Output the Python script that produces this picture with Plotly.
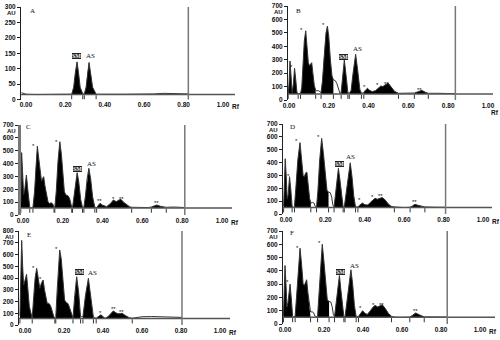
import plotly.graph_objects as go

# ---------------- data (Rf, AU) ----------------
PANELS = ["A", "B", "C", "D", "E", "F"]

A_POINTS = [(-0.022, 22), (0.0, 17), (0.05, 16), (0.10, 17), (0.15, 16), (0.20, 17),
            (0.232, 17), (0.242, 40), (0.250, 85), (0.259, 122), (0.267, 85), (0.275, 40), (0.288, 18),
            (0.296, 18), (0.305, 40), (0.312, 85), (0.320, 120), (0.328, 85), (0.338, 40), (0.356, 17),
            (0.40, 18), (0.45, 17), (0.50, 17), (0.55, 17), (0.60, 19), (0.65, 18), (0.70, 20),
            (0.75, 19), (0.80, 18), (0.824, 18)]

B_POINTS = [(-0.004, 45), (0.000, 120), (0.005, 290), (0.010, 150), (0.016, 55), (0.022, 120),
            (0.028, 236), (0.034, 150), (0.040, 55), (0.046, 48), (0.058, 50), (0.064, 90),
            (0.070, 250), (0.077, 440), (0.084, 515), (0.090, 420), (0.097, 280), (0.103, 255),
            (0.110, 275), (0.114, 278), (0.120, 200), (0.127, 110), (0.134, 72), (0.140, 68),
            (0.148, 70), (0.155, 60), (0.161, 55), (0.168, 140), (0.176, 330), (0.186, 500),
            (0.193, 550), (0.200, 470), (0.208, 300), (0.216, 180), (0.223, 150), (0.232, 145),
            (0.240, 125), (0.248, 85), (0.256, 50), (0.262, 55), (0.268, 160), (0.278, 298),
            (0.287, 180), (0.296, 55), (0.303, 50), (0.312, 70), (0.322, 200), (0.335, 340),
            (0.346, 210), (0.356, 80), (0.364, 50), (0.376, 55), (0.385, 75), (0.394, 87),
            (0.405, 72), (0.418, 62), (0.435, 70), (0.450, 90), (0.462, 105), (0.472, 100),
            (0.482, 112), (0.499, 125), (0.515, 95), (0.530, 65), (0.550, 50), (0.580, 52),
            (0.600, 50), (0.630, 52), (0.650, 62), (0.667, 72), (0.685, 58), (0.700, 50),
            (0.750, 50), (0.800, 48), (0.836, 47)]

C_POINTS = [(-0.011, 100), (-0.007, 485), (-0.002, 330), (0.003, 160), (0.009, 200), (0.017, 311),
            (0.024, 200), (0.030, 90), (0.034, 60), (0.042, 55), (0.050, 60), (0.058, 180),
            (0.065, 380), (0.072, 535), (0.080, 430), (0.088, 290), (0.093, 262), (0.099, 285),
            (0.104, 298), (0.110, 230), (0.118, 150), (0.126, 100), (0.133, 90), (0.142, 95),
            (0.150, 85), (0.156, 60), (0.160, 62), (0.167, 180), (0.176, 420), (0.185, 570),
            (0.193, 470), (0.200, 300), (0.208, 180), (0.216, 155), (0.226, 150), (0.234, 130),
            (0.240, 90), (0.245, 60), (0.249, 58), (0.256, 150), (0.264, 270), (0.272, 329),
            (0.280, 260), (0.290, 120), (0.299, 58), (0.306, 60), (0.314, 150), (0.322, 280),
            (0.331, 363), (0.340, 280), (0.350, 140), (0.361, 60), (0.370, 58), (0.378, 75),
            (0.387, 91), (0.398, 78), (0.420, 65), (0.440, 90), (0.454, 117), (0.463, 108),
            (0.470, 105), (0.480, 115), (0.492, 122), (0.505, 100), (0.520, 80), (0.535, 65),
            (0.546, 60), (0.570, 58), (0.600, 56), (0.630, 58), (0.645, 62), (0.660, 72),
            (0.672, 78), (0.690, 68), (0.710, 62), (0.720, 60), (0.760, 62), (0.800, 60), (0.813, 58)]

D_POINTS = [(-0.012, 60), (-0.008, 250), (-0.004, 430), (0.001, 300), (0.006, 120), (0.011, 150),
            (0.018, 290), (0.025, 180), (0.031, 60), (0.037, 52), (0.043, 60), (0.050, 200),
            (0.060, 420), (0.071, 555), (0.079, 450), (0.087, 300), (0.093, 290), (0.100, 320),
            (0.106, 325), (0.113, 220), (0.120, 120), (0.126, 85), (0.134, 90), (0.142, 85),
            (0.148, 60), (0.155, 55), (0.162, 180), (0.171, 420), (0.181, 588), (0.190, 470),
            (0.199, 300), (0.208, 185), (0.216, 170), (0.225, 165), (0.232, 130), (0.238, 70),
            (0.244, 55), (0.250, 150), (0.258, 280), (0.266, 355), (0.275, 250), (0.283, 120),
            (0.290, 55), (0.296, 55), (0.305, 160), (0.315, 300), (0.326, 398), (0.335, 290),
            (0.344, 140), (0.353, 55), (0.365, 55), (0.375, 70), (0.388, 85), (0.400, 72),
            (0.415, 70), (0.428, 90), (0.440, 110), (0.452, 122), (0.463, 115), (0.478, 125),
            (0.488, 128), (0.503, 110), (0.518, 80), (0.533, 60), (0.550, 55), (0.600, 50),
            (0.630, 52), (0.642, 62), (0.654, 75), (0.670, 68), (0.690, 58), (0.705, 55),
            (0.760, 53), (0.800, 52), (0.810, 52)]

E_POINTS = [(-0.026, 80), (-0.021, 450), (-0.017, 720), (-0.012, 500), (-0.007, 340), (0.000, 380),
            (0.008, 431), (0.015, 300), (0.022, 160), (0.029, 110), (0.034, 70), (0.037, 60),
            (0.045, 250), (0.052, 400), (0.060, 482), (0.068, 400), (0.076, 312), (0.085, 360),
            (0.093, 383), (0.100, 300), (0.108, 220), (0.114, 184), (0.120, 185), (0.127, 176),
            (0.134, 150), (0.140, 113), (0.147, 75), (0.153, 60), (0.158, 70), (0.165, 300),
            (0.172, 520), (0.178, 638), (0.186, 560), (0.195, 380), (0.203, 213), (0.212, 190),
            (0.220, 184), (0.228, 150), (0.237, 113), (0.246, 60), (0.255, 250), (0.265, 411),
            (0.275, 280), (0.285, 70), (0.297, 70), (0.310, 250), (0.325, 397), (0.337, 250),
            (0.351, 65), (0.365, 58), (0.378, 70), (0.390, 88), (0.400, 70), (0.410, 57),
            (0.425, 70), (0.440, 100), (0.453, 120), (0.465, 105), (0.478, 95), (0.490, 98),
            (0.498, 100), (0.515, 80), (0.535, 62), (0.550, 58), (0.600, 70), (0.650, 72),
            (0.700, 70), (0.750, 68), (0.805, 65)]

F_POINTS = [(-0.008, 60), (-0.004, 250), (0.000, 440), (0.005, 300), (0.010, 130), (0.015, 160),
            (0.026, 300), (0.033, 180), (0.039, 60), (0.045, 52), (0.052, 60), (0.059, 200),
            (0.068, 420), (0.077, 570), (0.085, 450), (0.093, 300), (0.099, 290), (0.106, 325),
            (0.111, 333), (0.118, 230), (0.125, 125), (0.131, 90), (0.139, 92), (0.147, 85),
            (0.153, 60), (0.160, 55), (0.167, 60), (0.174, 200), (0.182, 430), (0.191, 600),
            (0.199, 480), (0.208, 300), (0.217, 180), (0.226, 170), (0.235, 165), (0.242, 130),
            (0.248, 70), (0.254, 55), (0.262, 150), (0.270, 280), (0.279, 365), (0.287, 250),
            (0.295, 120), (0.302, 55), (0.308, 55), (0.317, 160), (0.327, 300), (0.338, 408),
            (0.347, 300), (0.356, 140), (0.365, 55), (0.377, 58), (0.388, 80), (0.398, 100),
            (0.410, 80), (0.422, 72), (0.438, 100), (0.450, 125), (0.462, 140), (0.476, 128),
            (0.490, 140), (0.499, 145), (0.515, 115), (0.530, 80), (0.546, 58), (0.560, 52),
            (0.600, 50), (0.640, 52), (0.652, 62), (0.670, 83), (0.688, 70), (0.705, 58),
            (0.714, 54), (0.760, 53), (0.800, 52), (0.832, 52)]

# integrated (black filled) Rf windows
A_FILL = [(0.232, 0.288), (0.296, 0.356)]
B_FILL = [(-0.004, 0.046), (0.058, 0.134), (0.161, 0.223), (0.262, 0.296), (0.303, 0.364), (0.376, 0.550), (0.630, 0.700)]
C_FILL = [(-0.011, 0.034), (0.050, 0.156), (0.160, 0.245), (0.249, 0.299), (0.306, 0.361), (0.370, 0.546), (0.645, 0.720)]
D_FILL = [(-0.012, 0.031), (0.043, 0.126), (0.155, 0.216), (0.244, 0.290), (0.296, 0.353), (0.365, 0.550), (0.630, 0.705)]
E_FILL = [(-0.026, 0.037), (0.037, 0.153), (0.158, 0.246), (0.246, 0.285), (0.297, 0.351), (0.365, 0.550)]
F_FILL = [(-0.008, 0.039), (0.052, 0.131), (0.167, 0.226), (0.254, 0.302), (0.308, 0.365), (0.377, 0.546), (0.640, 0.714)]

BASELINE = {"A": 16, "B": 45, "C": 55, "D": 50, "E": 55, "F": 50}
CUT_RF = {"A": 0.824, "B": 0.836, "C": 0.813, "D": 0.810, "E": 0.805, "F": 0.832}
Y_MAX = {"A": 300, "B": 700, "C": 700, "D": 700, "E": 800, "F": 700}
Y_STEP = {"A": 50, "B": 100, "C": 100, "D": 100, "E": 100, "F": 100}

# peak labels: (Rf, AU, text)
A_MARKS = [(0.256, 140, "SM"), (0.328, 140, "AS")]
B_MARKS = [(0.065, 530, "*"), (0.174, 563, "*"), (0.015, 250, "*"), (0.276, 322, "SM"), (0.342, 380, "AS"),
           (0.380, 104, "*"), (0.447, 119, "*"), (0.489, 126, "**"), (0.657, 82, "**")]
C_MARKS = [(0.054, 545, "*"), (0.168, 576, "*"), (0.272, 358, "SM"), (0.345, 397, "AS"),
           (0.383, 117, "**"), (0.457, 135, "*"), (0.496, 135, "**"), (0.669, 104, "**")]
D_MARKS = [(0.054, 576, "*"), (0.167, 607, "*"), (0.012, 300, "*"), (0.270, 389, "SM"), (0.328, 446, "AS"),
           (0.375, 114, "*"), (0.439, 140, "*"), (0.481, 145, "**"), (0.650, 104, "**")]
E_MARKS = [(0.043, 496, "*"), (0.077, 397, "*"), (0.162, 653, "*"), (0.277, 454, "SM"), (0.347, 445, "AS"),
           (0.385, 108, "*"), (0.453, 142, "**"), (0.496, 122, "**")]
F_MARKS = [(0.063, 583, "*"), (0.176, 615, "*"), (0.012, 320, "*"), (0.285, 395, "SM"), (0.354, 433, "AS"),
           (0.385, 125, "*"), (0.453, 153, "*"), (0.496, 153, "**"), (0.667, 108, "**")]

X_TICKS = [0.0, 0.2, 0.4, 0.6, 0.8, 1.0]
X_TICKTEXT = ["0.00", "0.20", "0.40", "0.60", "0.80", "1.00"]

DATA = {"A": A_POINTS, "B": B_POINTS, "C": C_POINTS, "D": D_POINTS, "E": E_POINTS, "F": F_POINTS}
FILLS = {"A": A_FILL, "B": B_FILL, "C": C_FILL, "D": D_FILL, "E": E_FILL, "F": F_FILL}
MARKS = {"A": A_MARKS, "B": B_MARKS, "C": C_MARKS, "D": D_MARKS, "E": E_MARKS, "F": F_MARKS}

# ---------------- layout geometry (pixels in a 500x340 page) ----------------
W, H = 500, 340
# px_left(axis), px_right, px of Rf 0, px per Rf unit, py of AU 0, py of AU max
GEOM = {
    "A": (21, 235, 26, 197, 99.5, 7),
    "B": (288, 493, 289, 199, 100, 6),
    "C": (21, 232, 23, 199, 215, 125),
    "D": (283, 492, 286, 197, 214, 124),
    "E": (19, 230, 25, 195, 325, 231),
    "F": (283, 495, 285, 195, 324, 231),
}
LETTER_SHIFT = {"A": (8, -4), "B": (7, -5), "C": (4, -2), "D": (6, -3), "E": (7, -4), "F": (6, -2)}

TICKFONT = dict(family="Liberation Sans, Arial", size=6.5, color="#111", weight="bold")
UNITFONT = dict(family="Liberation Sans, Arial", size=6, color="#111", weight="bold")
SERIF = "Liberation Serif, Times New Roman"

fig = go.Figure()
layout = dict(width=W, height=H, margin=dict(l=0, r=0, t=0, b=0, pad=0), paper_bgcolor="white",
              plot_bgcolor="rgba(0,0,0,0)", showlegend=False)
annotations, shapes = [], []

for i, key in enumerate(PANELS, start=1):
    pl, pr, x0px, sx, py0, pytop = GEOM[key]
    xa = "x" if i == 1 else f"x{i}"
    ya = "y" if i == 1 else f"y{i}"
    xname = "xaxis" if i == 1 else f"xaxis{i}"
    yname = "yaxis" if i == 1 else f"yaxis{i}"
    ymax = Y_MAX[key]
    base = BASELINE[key]

    layout[xname] = dict(domain=[pl / W, pr / W], range=[(pl - x0px) / sx, (pr - x0px) / sx],
                         anchor=ya, showline=False, showgrid=False, zeroline=False, automargin=False,
                         tickmode="array", tickvals=X_TICKS, ticktext=X_TICKTEXT,
                         ticks="", tickfont=TICKFONT, fixedrange=True)
    layout[yname] = dict(domain=[1 - py0 / H, 1 - pytop / H], range=[0, ymax], anchor=xa,
                         showline=True, linecolor="#777" if key == "C" else "#222",
                         linewidth=3 if key == "C" else 1, automargin=False,
                         showgrid=False, zeroline=False, ticks="outside", ticklen=3, tickwidth=1,
                         tickcolor="#222", tickmode="array",
                         tickvals=list(range(0, ymax + 1, Y_STEP[key])), tickfont=TICKFONT,
                         fixedrange=True)

    rf = [p[0] for p in DATA[key]]
    au = [p[1] for p in DATA[key]]

    # filled peak areas
    xs, ys = [], []
    for a, b in FILLS[key]:
        seg = [(r, v) for r, v in zip(rf, au) if a - 1e-9 <= r <= b + 1e-9]
        xs += [p[0] for p in seg] + [seg[-1][0], seg[0][0], None]
        ys += [p[1] for p in seg] + [base, base, None]
    fig.add_trace(go.Scatter(x=xs, y=ys, xaxis=xa, yaxis=ya, mode="lines", line=dict(width=0, color="black"),
                             fill="toself", fillcolor="black", hoverinfo="skip"))
    # baseline
    shapes.append(dict(type="line", xref=f"{xa} domain", yref=ya, x0=0, x1=1, y0=base, y1=base,
                       line=dict(color="#555", width=1.5)))
    # densitogram curve
    fig.add_trace(go.Scatter(x=rf, y=au, xaxis=xa, yaxis=ya, mode="lines",
                             line=dict(color="#333", width=1), hoverinfo="skip"))
    # integration boundary ticks
    bx = sorted({r for ab in FILLS[key] for r in ab})
    fig.add_trace(go.Scatter(x=bx, y=[base - 0.03 * ymax] * len(bx), xaxis=xa, yaxis=ya, mode="markers",
                             marker=dict(symbol="line-ns", size=3, line=dict(color="#333", width=1)),
                             hoverinfo="skip"))
    # scan-end line
    shapes.append(dict(type="line", xref=xa, yref=f"{ya} domain", x0=CUT_RF[key], x1=CUT_RF[key],
                       y0=0, y1=1, line=dict(color="#777", width=1.5)))

    # peak labels
    for r, v, t in MARKS[key]:
        if t == "SM":
            annotations.append(dict(x=r, y=v, xref=xa, yref=ya, text="<b>SM</b>", showarrow=False,
                                    font=dict(family=SERIF, size=6, color="#eee"), bgcolor="#222",
                                    bordercolor="#000", borderwidth=0, borderpad=0))
        elif t == "AS":
            annotations.append(dict(x=r, y=v, xref=xa, yref=ya, text="AS", showarrow=False,
                                    font=dict(family=SERIF, size=7, color="#111")))
        else:
            annotations.append(dict(x=r, y=v, xref=xa, yref=ya, text=t, showarrow=False, yshift=-1,
                                    font=dict(family="Liberation Sans, Arial", size=6, color="#111")))

    # panel letter
    dx, dy = LETTER_SHIFT[key]
    annotations.append(dict(x=0, y=1, xref=f"{xa} domain", yref=f"{ya} domain", text=key, showarrow=False,
                            xanchor="left", yanchor="middle", xshift=dx - 1, yshift=dy,
                            font=dict(family=SERIF, size=7, color="#111")))
    # AU unit under top tick label
    annotations.append(dict(x=0, y=1, xref=f"{xa} domain", yref=f"{ya} domain", text="AU", showarrow=False,
                            xanchor="right", yanchor="middle", xshift=-3, yshift=-6, font=UNITFONT))
    # Rf unit next to 1.00
    if key == "B":
        annotations.append(dict(x=1.0, y=0, xref=xa, yref=f"{ya} domain", text="Rf", showarrow=False,
                                xanchor="left", yanchor="middle", xshift=1, yshift=-12, font=TICKFONT))
    else:
        annotations.append(dict(x=1.0, y=0, xref=xa, yref=f"{ya} domain", text="Rf", showarrow=False,
                                xanchor="left", yanchor="middle", xshift=7, yshift=-7, font=TICKFONT))

layout["annotations"] = annotations
layout["shapes"] = shapes
fig.update_layout(**layout)
fig.write_html("out.html", config={"displayModeBar": False, "responsive": False},
               post_script="document.body.style.margin='0px';document.body.style.overflow='hidden';")
